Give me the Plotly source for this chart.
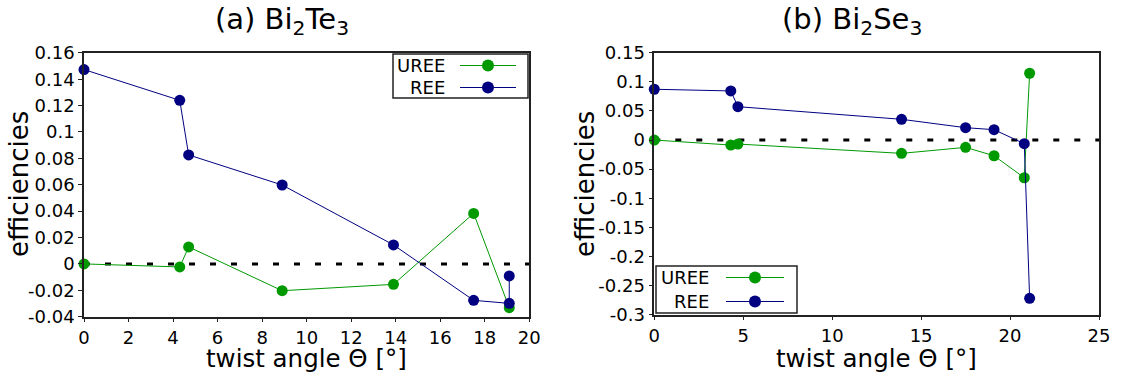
import plotly.graph_objects as go

# ---------------- data ----------------
# (a) Bi2Te3
theta_a_uree = [0, 4.3, 4.7, 8.9, 13.9, 17.5, 19.1]
uree_a = [0.0, -0.0023, 0.0129, -0.0203, -0.0155, 0.0383, -0.0332]
theta_a_ree = [0, 4.3, 4.7, 8.9, 13.9, 17.5, 19.1, 19.1]
ree_a = [0.1473, 0.124, 0.0826, 0.0598, 0.0144, -0.0276, -0.0299, -0.0091]

# (b) Bi2Se3
theta_b = [0, 4.3, 4.7, 13.9, 17.5, 19.1, 20.8, 21.1]
uree_b = [0.0, -0.0086, -0.0069, -0.0229, -0.0126, -0.0270, -0.0648, 0.1147]
ree_b = [0.0872, 0.0843, 0.0573, 0.0356, 0.0212, 0.0178, -0.0063, -0.2718]

# tick labels
xticks_a = [0, 2, 4, 6, 8, 10, 12, 14, 16, 18, 20]
xticks_a_text = ["0", "2", "4", "6", "8", "10", "12", "14", "16", "18", "20"]
yticks_a = [0.16, 0.14, 0.12, 0.1, 0.08, 0.06, 0.04, 0.02, 0, -0.02, -0.04]
yticks_a_text = ["0.16", "0.14", "0.12", "0.1", "0.08", "0.06", "0.04", "0.02", "0", "-0.02", "-0.04"]
xticks_b = [0, 5, 10, 15, 20, 25]
xticks_b_text = ["0", "5", "10", "15", "20", "25"]
yticks_b = [0.15, 0.1, 0.05, 0, -0.05, -0.1, -0.15, -0.2, -0.25, -0.3]
yticks_b_text = ["0.15", "0.1", "0.05", "0", "-0.05", "-0.1", "-0.15", "-0.2", "-0.25", "-0.3"]

series_names = ["UREE", "REE"]
titles = ["(a) Bi<sub>2</sub>Te<sub>3</sub>", "(b) Bi<sub>2</sub>Se<sub>3</sub>"]
xlabel = "twist angle Θ [°]"
ylabel = "efficiencies"

# ---------------- style ----------------
W, H = 1121, 376
GREEN = "#009900"
BLUE = "#000080"
FONT = "DejaVu Sans"
AXC = "#222222"


def px(x):
    return x / W


def py(y):
    return 1 - y / H


fig = go.Figure()

mk = dict(size=11)
fig.add_trace(go.Scatter(x=theta_a_uree, y=uree_a, mode="lines+markers", name="UREE",
                         line=dict(color=GREEN, width=1), marker=dict(color=GREEN, **mk),
                         xaxis="x", yaxis="y", cliponaxis=False, showlegend=False))
fig.add_trace(go.Scatter(x=theta_a_ree, y=ree_a, mode="lines+markers", name="REE",
                         line=dict(color=BLUE, width=1), marker=dict(color=BLUE, **mk),
                         xaxis="x", yaxis="y", cliponaxis=False, showlegend=False))
fig.add_trace(go.Scatter(x=theta_b, y=uree_b, mode="lines+markers", name="UREE",
                         line=dict(color=GREEN, width=1), marker=dict(color=GREEN, **mk),
                         xaxis="x2", yaxis="y2", cliponaxis=False, showlegend=False))
fig.add_trace(go.Scatter(x=theta_b, y=ree_b, mode="lines+markers", name="REE",
                         line=dict(color=BLUE, width=1), marker=dict(color=BLUE, **mk),
                         xaxis="x2", yaxis="y2", cliponaxis=False, showlegend=False))

axis_common = dict(showline=True, mirror=True, linecolor=AXC, linewidth=1.5,
                   ticks="outside", ticklen=4, tickwidth=1, tickcolor=AXC,
                   showgrid=False, zeroline=False, automargin=False,
                   tickfont=dict(family=FONT, size=18, color="black"))

fig.update_layout(
    width=W, height=H,
    margin=dict(l=0, r=0, t=0, b=0),
    paper_bgcolor="white", plot_bgcolor="white",
    font=dict(family=FONT, color="black"),
    xaxis=dict(domain=[px(84), px(529.3)], range=[0, 20], anchor="y",
               tickvals=xticks_a, ticktext=xticks_a_text, **axis_common),
    yaxis=dict(domain=[py(316.7), py(52.8)], range=[-0.04, 0.16], anchor="x",
               tickvals=yticks_a, ticktext=yticks_a_text, **axis_common),
    xaxis2=dict(domain=[px(654.3), px(1099)], range=[0, 25], anchor="y2",
                tickvals=xticks_b, ticktext=xticks_b_text, **axis_common),
    yaxis2=dict(domain=[py(314.7), py(52.7)], range=[-0.3, 0.15], anchor="x2",
                tickvals=yticks_b, ticktext=yticks_b_text, **axis_common),
)

# zero dashed lines
for xr, yr in [("x domain", "y"), ("x2 domain", "y2")]:
    fig.add_shape(type="line", xref=xr, yref=yr, x0=0, x1=1, y0=0, y1=0,
                  line=dict(color="black", width=3, dash="6px,15px"), layer="below")

# titles and axis labels
ann = []
for cx, t in [(282, titles[0]), (851.5, titles[1])]:
    ann.append(dict(x=px(cx), y=1, xref="paper", yref="paper", text=t,
                    showarrow=False, xanchor="center", yanchor="top",
                    font=dict(family=FONT, size=29, color="black")))
for cx in [306.7, 876.7]:
    ann.append(dict(x=px(cx), y=py(358), xref="paper", yref="paper", text=xlabel,
                    showarrow=False, xanchor="center", yanchor="middle",
                    font=dict(family=FONT, size=24.5, color="black")))
for cx in [19, 585]:
    ann.append(dict(x=px(cx), y=py(184), xref="paper", yref="paper", text=ylabel,
                    showarrow=False, xanchor="center", yanchor="middle", textangle=-90,
                    font=dict(family=FONT, size=26, color="black")))

# legends (gnuplot style: text, then line sample with marker)
legends = [
    dict(box=(393, 54, 528, 98), tx=447, l0=460, l1=516, m=488, rows=(65.5, 87.5)),
    dict(box=(656, 266, 797, 313), tx=711, l0=726, l1=784, m=755, rows=(277.5, 301.5)),
]
colors = [GREEN, BLUE]
for lg in legends:
    x0, y0, x1, y1 = lg["box"]
    fig.add_shape(type="rect", xref="paper", yref="paper", x0=px(x0), x1=px(x1),
                  y0=py(y1), y1=py(y0), line=dict(color=AXC, width=1.5),
                  fillcolor="white", layer="above")
    for name, col, ry in zip(series_names, colors, lg["rows"]):
        ann.append(dict(x=px(lg["tx"]), y=py(ry), xref="paper", yref="paper", text=name,
                        showarrow=False, xanchor="right", yanchor="middle",
                        font=dict(family=FONT, size=18, color="black")))
        fig.add_shape(type="line", xref="paper", yref="paper", x0=px(lg["l0"]),
                      x1=px(lg["l1"]), y0=py(ry), y1=py(ry),
                      line=dict(color=col, width=1), layer="above")
        fig.add_shape(type="circle", xref="paper", yref="paper",
                      xsizemode="pixel", ysizemode="pixel",
                      xanchor=px(lg["m"]), yanchor=py(ry), x0=-6, x1=6, y0=-6, y1=6,
                      fillcolor=col, line=dict(color=col, width=0), layer="above")

fig.update_layout(annotations=ann)
fig.write_html("out.html", config={"displayModeBar": False},
               post_script="document.body.style.margin='0px';document.body.style.overflow='hidden';")
